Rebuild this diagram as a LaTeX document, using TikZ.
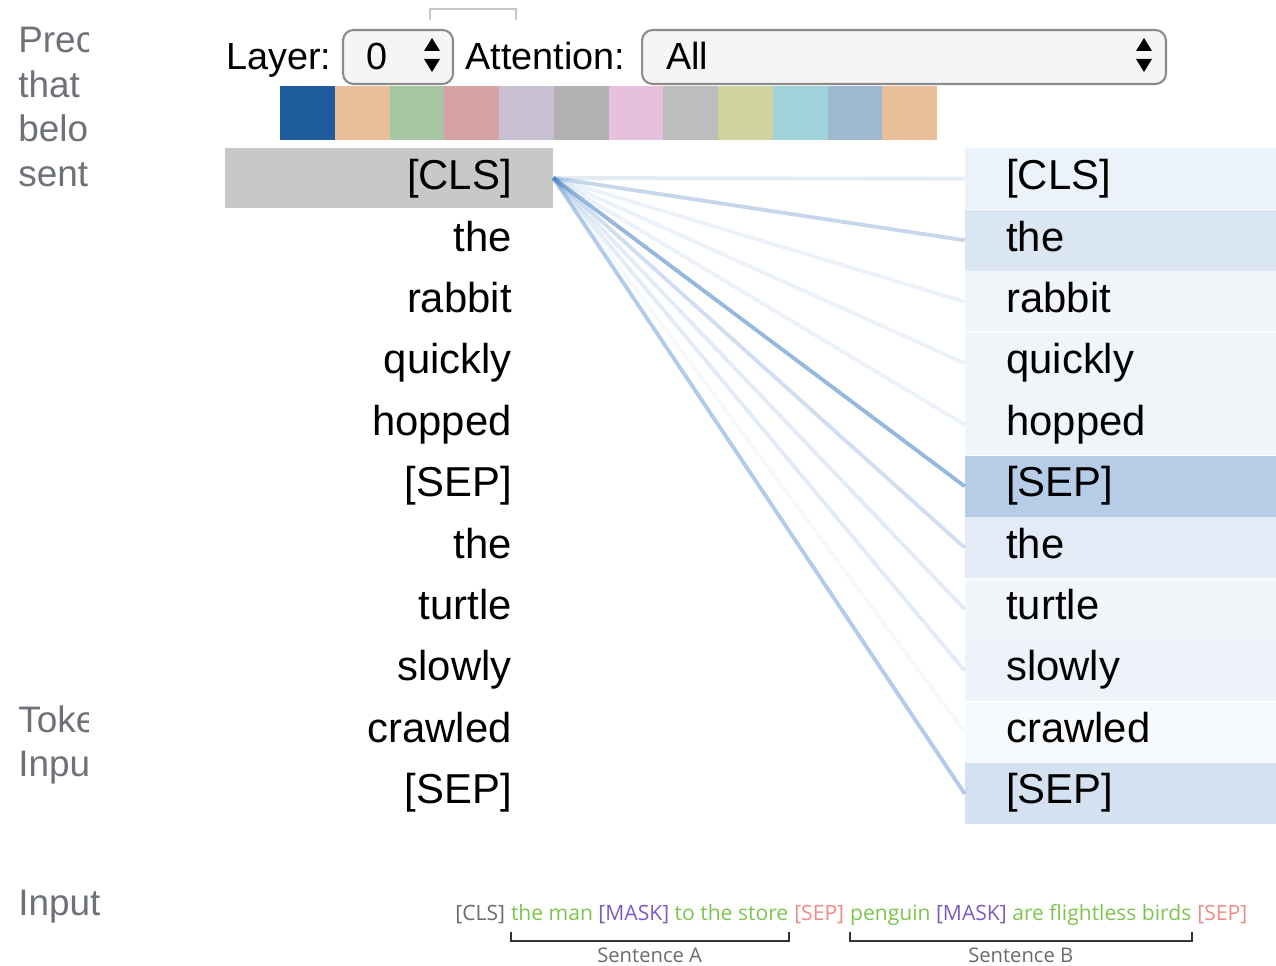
\documentclass[tikz,border=0pt]{standalone}
\usepackage{fontspec}
\setmainfont{Liberation Sans}
\newfontfamily\opensans{Open Sans}
\usetikzlibrary{positioning}
\definecolor{attn}{HTML}{427CC0}
\definecolor{sidegray}{HTML}{6D7178}
\definecolor{widgetfill}{HTML}{F5F5F5}
\definecolor{widgetedge}{HTML}{8C8C8C}
\definecolor{clsfill}{HTML}{C8C8C8}
\definecolor{inpgray}{HTML}{6B6B6B}
\definecolor{inpgreen}{HTML}{7DC44F}
\definecolor{inpmask}{HTML}{7A5CC6}
\definecolor{inpsep}{HTML}{F08A84}

\begin{document}
\begin{tikzpicture}[x=0.02cm, y=-0.02cm,
  tok/.style={font=\fontsize{23.8}{28}\selectfont, inner sep=0},
  side/.style={font=\fontsize{21}{25}\selectfont, text=sidegray, inner sep=0, anchor=base west},
  ctl/.style={font=\fontsize{21.5}{25}\selectfont, inner sep=0, anchor=base west},
  widget/.style={draw=widgetedge, fill=widgetfill, line width=1.2pt, rounded corners=6pt, inner sep=0},
  rowbox/.style={inner sep=0, minimum width=6.22cm, minimum height=1.23cm},
  link/.style={draw=attn, line width=2.2pt},
  inp/.style={font=\opensans\fontsize{12}{14}\selectfont, inner sep=0},
  brk/.style={draw=black!80, line width=1.1pt},
  senlab/.style={font=\opensans\fontsize{11.5}{14}\selectfont, text=inpgray, inner sep=0, anchor=base}]
\useasboundingbox (0,0) rectangle (1276,966);

\begin{scope}
\clip (0,0) rectangle (88,966);
\node[side] (prec) at (18,53) {Prec};
\node[side] (that) at (18,97.5) {that};
\node[side] (belo) at (18,142) {belo};
\node[side] (sent) at (18,186.5) {sent};
\node[side] (toke) at (18,732) {Toke};
\node[side] (inpu) at (18,776) {Inpu};
\end{scope}
\node[side] (input) at (18,915) {Input};

\draw[black!22, line width=1.5pt] (430,20) -- (430,9) -- (516,9) -- (516,20);
\node[ctl] (layer) at (226,70) {Layer:};
\node[widget, minimum width=2.2cm, minimum height=1.08cm] (spin) at (398,57) {};
\node[ctl] (zero) at (366,70) {0};
\fill (424,51) -- (432,38) -- (440,51) -- cycle;
\fill (424,59) -- (440,59) -- (432,72) -- cycle;
\node[ctl] (heads) at (465,70) {Attention:};
\node[widget, minimum width=10.48cm, minimum height=1.08cm] (menu) at (904,57) {};
\node[ctl] (all) at (666,70) {All};
\fill (1136,51) -- (1144,38) -- (1152,51) -- cycle;
\fill (1136,59) -- (1152,59) -- (1144,72) -- cycle;

\foreach \c [count=\i] in {1F5C9E,E8BF98,A6C6A2,D7A2A4,C8C0D0,B2B2B2,E6C0DC,BDBDBD,D0D3A0,A0D4DA,9EB8CF,E8BF98} {
  \definecolor{sw}{HTML}{\c}
  \fill[sw] ({280+(\i-1)*54.75},86) rectangle ({280+\i*54.75},140);
}

\node[fill=clsfill, inner sep=0, minimum width=6.56cm, minimum height=1.2cm] (lcls) at (389,178) {};
\foreach \w/\f/\a [count=\i] in {{[CLS]}/10/0.15, the/19/0.3, rabbit/7/0.1, quickly/8/0.1, hopped/8/0.1, {[SEP]}/38/0.55, the/15/0.25, turtle/7/0.15, slowly/9/0.15, crawled/4/0.05, {[SEP]}/23/0.4} {
  \node[rowbox, fill=attn!\f!white] (r\i) at (1120.5,{148+(\i-0.5)*61.5}) {};
  \node[tok, anchor=base east] (l\i) at (512,{159+(\i-0.5)*61.4}) {\w};
  \node[tok, anchor=base west] (t\i) at (1006,{159+(\i-0.5)*61.4}) {\w};
  \draw[link, draw opacity=\a] (lcls.east) -- (r\i.west);
}

\node[inp, text=inpgray, anchor=base west] (icls) at (455,920) {[CLS]};
\node[inp, text=inpgreen, base right=3pt of icls] (isa) {the man \textcolor{inpmask}{[MASK]} to the store};
\node[inp, text=inpsep, base right=3pt of isa] (isepa) {[SEP]};
\node[inp, text=inpgreen, base right=3pt of isepa] (isb) {penguin \textcolor{inpmask}{[MASK]} are flightless birds};
\node[inp, text=inpsep, base right=3pt of isb] (isepb) {[SEP]};
\draw[brk] ([yshift=-7pt]isa.base west) -- ([yshift=-12pt]isa.base west) -- ([yshift=-12pt]isa.base east) -- ([yshift=-7pt]isa.base east);
\draw[brk] ([yshift=-7pt]isb.base west) -- ([yshift=-12pt]isb.base west) -- ([yshift=-12pt]isb.base east) -- ([yshift=-7pt]isb.base east);
\node[senlab] (sena) at ([yshift=-24pt]isa.base) {Sentence A};
\node[senlab] (senb) at ([yshift=-24pt]isb.base) {Sentence B};
\end{tikzpicture}
\end{document}
